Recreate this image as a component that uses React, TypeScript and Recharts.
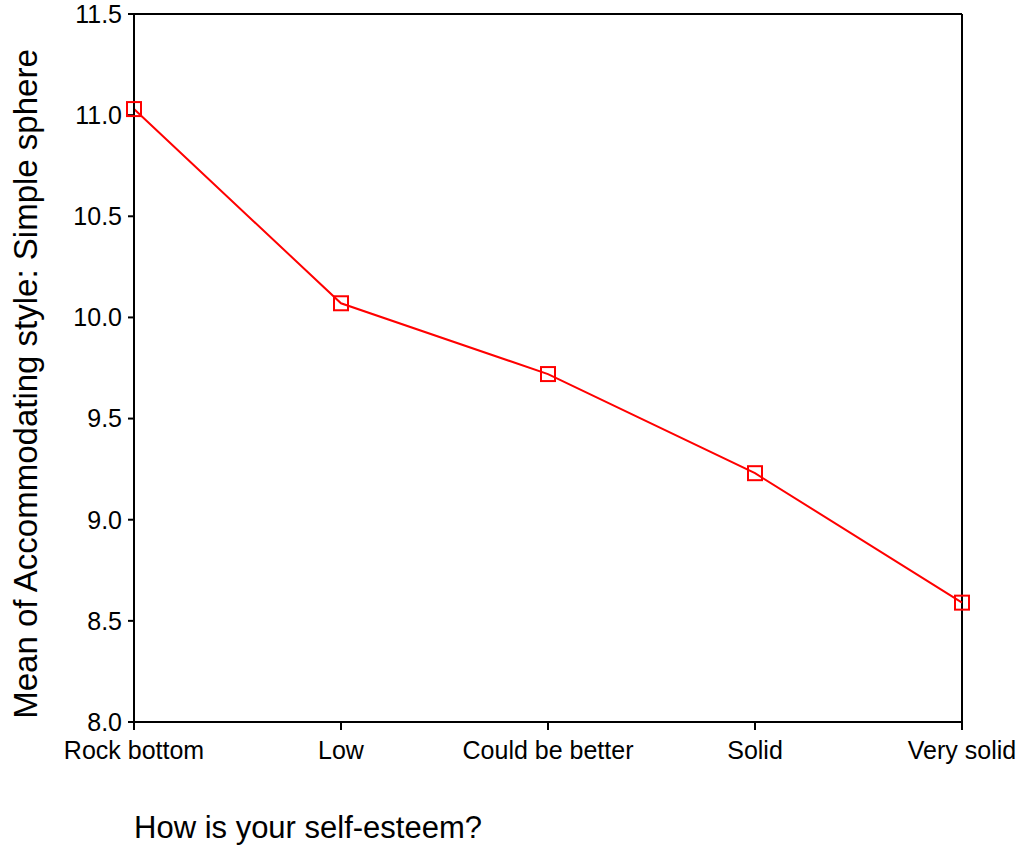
import { LineChart, Line, XAxis, YAxis, ReferenceLine, Label } from "recharts";

const categories = ["Rock bottom", "Low", "Could be better", "Solid", "Very solid"];
const means = [11.03, 10.07, 9.72, 9.23, 8.59];
const yTicks = [8.0, 8.5, 9.0, 9.5, 10.0, 10.5, 11.0, 11.5];

const data = categories.map((name, i) => ({ name, mean: means[i] }));

const FONT = '"Liberation Sans", Arial, sans-serif';

const SquareDot = (props: any) => {
  const { cx, cy, index } = props;
  if (cx == null || cy == null) return null;
  return (
    <rect
      key={index}
      x={cx - 7}
      y={cy - 7}
      width={14}
      height={14}
      fill="none"
      stroke="#ff0000"
      strokeWidth={2}
    />
  );
};

const YTitle = (props: any) => {
  const vb = props.viewBox || { x: 0, y: 14, width: 134, height: 708 };
  const x = 37;
  const y = vb.y + vb.height / 2 + 16;
  return (
    <text
      x={x}
      y={y}
      transform={`rotate(-90, ${x}, ${y})`}
      textAnchor="middle"
      fontSize={33}
      fontFamily={FONT}
      fill="#000"
    >
      Mean of Accommodating style: Simple sphere
    </text>
  );
};

const XTitle = (props: any) => {
  const vb = props.viewBox || { x: 134, y: 722 };
  return (
    <text x={vb.x} y={vb.y + 116} fontSize={31} fontFamily={FONT} fill="#000">
      How is your self-esteem?
    </text>
  );
};

export default function App() {
  return (
    <div style={{ position: "absolute", left: 0, top: 0, background: "#fff" }}>
      <LineChart
        width={1028}
        height={849}
        data={data}
        margin={{ top: 14, right: 66, bottom: 0, left: 0 }}
      >
        <XAxis
          dataKey="name"
          scale="point"
          padding={{ left: 0, right: 0 }}
          height={127}
          tickSize={8}
          tickMargin={11}
          stroke="#000"
          strokeWidth={2}
          tick={{ fill: "#000", fontSize: 25, fontFamily: FONT }}
          tickLine={{ stroke: "#000", strokeWidth: 2 }}
          interval={0}
        >
          <Label content={XTitle} />
        </XAxis>
        <YAxis
          width={134}
          domain={[8, 11.5]}
          ticks={yTicks}
          interval={0}
          tickFormatter={(v: number) => v.toFixed(1)}
          tickSize={6}
          tickMargin={6}
          stroke="#000"
          strokeWidth={2}
          tick={{ fill: "#000", fontSize: 25, fontFamily: FONT }}
          tickLine={{ stroke: "#000", strokeWidth: 2 }}
        >
          <Label content={YTitle} />
        </YAxis>
        <ReferenceLine y={11.5} stroke="#000" strokeWidth={2} />
        <ReferenceLine x="Very solid" stroke="#000" strokeWidth={2} />
        <Line
          type="linear"
          dataKey="mean"
          stroke="#ff0000"
          strokeWidth={2}
          dot={<SquareDot />}
          activeDot={false}
          isAnimationActive={false}
        />
      </LineChart>
    </div>
  );
}
